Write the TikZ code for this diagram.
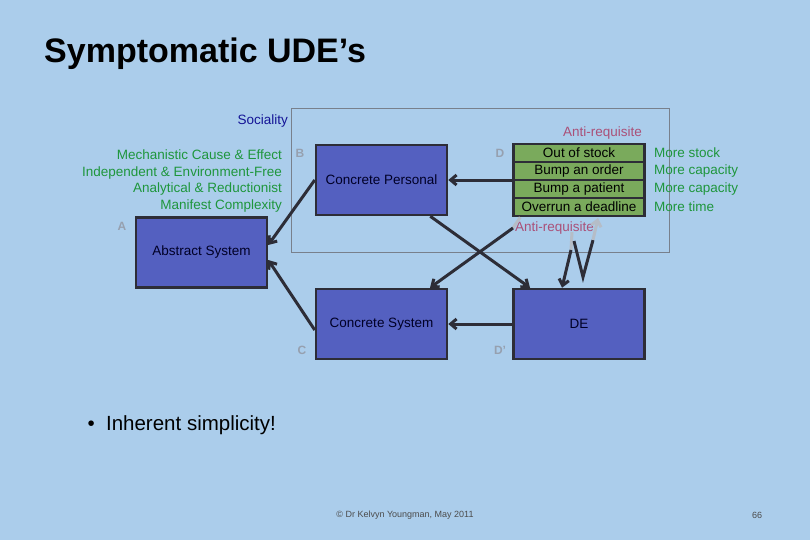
\documentclass[tikz,border=0pt]{standalone}
\usepackage{fontspec}
\setmainfont{Liberation Sans}
\usetikzlibrary{arrows.meta}
\definecolor{slideBg}{RGB}{171,205,235}
\definecolor{boxFill}{RGB}{84,96,192}
\definecolor{boxLine}{RGB}{45,45,55}
\definecolor{rowFill}{RGB}{122,170,92}
\definecolor{textGreen}{RGB}{30,150,60}
\definecolor{textPink}{RGB}{170,80,120}
\definecolor{textNavy}{RGB}{20,20,150}
\definecolor{letterGray}{RGB}{150,160,175}
\tikzset{
  block/.style={draw=boxLine, line width=2.5pt, fill=boxFill, minimum width=131pt,
    minimum height=70pt, inner sep=0pt, font=\fontsize{13.5}{16}\selectfont, text=black!85!blue},
  row/.style={draw=boxLine, line width=2.5pt, fill=rowFill, minimum width=131pt,
    minimum height=18pt, inner sep=0pt, font=\fontsize{13.5}{16}\selectfont},
  corner/.style={text=letterGray, font=\fontsize{12}{14}\selectfont\bfseries},
  side/.style={font=\fontsize{13.5}{16.8}\selectfont, inner sep=0pt},
  link/.style={draw=boxLine, line width=3pt, -{Straight Barb[length=6pt,width=10pt]}},
  faint/.style={draw=letterGray!70!white, line width=3pt}
}
\begin{document}
\begin{tikzpicture}[x=1pt,y=-1pt]
  \fill[slideBg] (0,0) rectangle (810,540);
  \useasboundingbox (0,0) rectangle (810,540);

  \node[anchor=west, inner sep=0pt, font=\fontsize{34}{40}\selectfont\bfseries] (title) at (44,54) {Symptomatic UDE’s};

  \draw[letterGray!80!black, line width=0.6pt] (291,108) rectangle (669,252);

  \node[block] (abs) at (201.5,252.5) {Abstract System};
  \node[block] (cp) at (381.5,180) {Concrete Personal};
  \node[block] (cs) at (381.5,324) {Concrete System};
  \node[block] (de) at (579,324) {DE};

  \node[row] (r1) at (579,153) {Out of stock};
  \node[row] (r2) at (579,171) {Bump an order};
  \node[row] (r3) at (579,189) {Bump a patient};
  \node[row] (r4) at (579,207) {Overrun a deadline};

  \foreach \i/\t in {1/More stock,2/More capacity,3/More capacity,4/More time}{
    \node[side, anchor=west, text=textGreen] (m\i) at (654,153+18*\i-18) {\t};
  }

  \node[side, anchor=east, text=textNavy] (soc) at (288,121) {Sociality};
  \node[side, anchor=east, text=textGreen, align=right] (props) at (282,181)
    {Mechanistic Cause \& Effect\\Independent \& Environment-Free\\Analytical \& Reductionist\\Manifest Complexity};
  \node[side, anchor=east, text=textPink] (ar1) at (642,133) {Anti-requisite};
  \node[side, anchor=west, text=textPink] (ar2) at (515,228) {Anti-requisite};

  \node[corner] (la) at (122,226) {A};
  \node[corner] (lb) at (300,153) {B};
  \node[corner] (lc) at (302,350) {C};
  \node[corner] (ld) at (500,153) {D};
  \node[corner] (ldd) at (500,350) {D’};

  \draw[link] (r2.west |- cp.east) -- (cp.east);
  \draw[link] (de.west) -- (cs.east);
  \draw[link] (cp.west) -- (abs.east |- 0,245);
  \draw[link] (cs.west |- 0,330) -- (abs.east |- 0,260);
  \draw[link] (cp.south east) ++(-18,0) coordinate (cpx) -- (de.north west -| 530,0);
  \coordinate (gx) at (513,228);
  \draw[faint] (r4.south west) ++(8,0) -- (gx);
  \draw[link] (gx) -- (cs.north east -| 430,0);
  \coordinate (z1) at (572,232);
  \coordinate (z2) at (583,277);
  \coordinate (z3) at (598,218);
  \draw[faint] (z1) -- (571,250);
  \draw[link] (571,250) -- (de.north -| 562,0);
  \draw[boxLine, line width=3pt] (574,241) -- (z2) -- (593,240);
  \draw[faint, -{Straight Barb[length=6pt,width=10pt]}] (593,240) -- (z3);

  \node[anchor=west, font=\fontsize{20.5}{24}\selectfont] (bul) at (84,425) {\textbullet\ \ Inherent simplicity!};
  \node[font=\fontsize{9}{11}\selectfont, text=black!70] (foot) at (405,515) {© Dr Kelvyn Youngman, May 2011};
  \node[font=\fontsize{9}{11}\selectfont, text=black!70] (page) at (757,515) {66};
\end{tikzpicture}
\end{document}
